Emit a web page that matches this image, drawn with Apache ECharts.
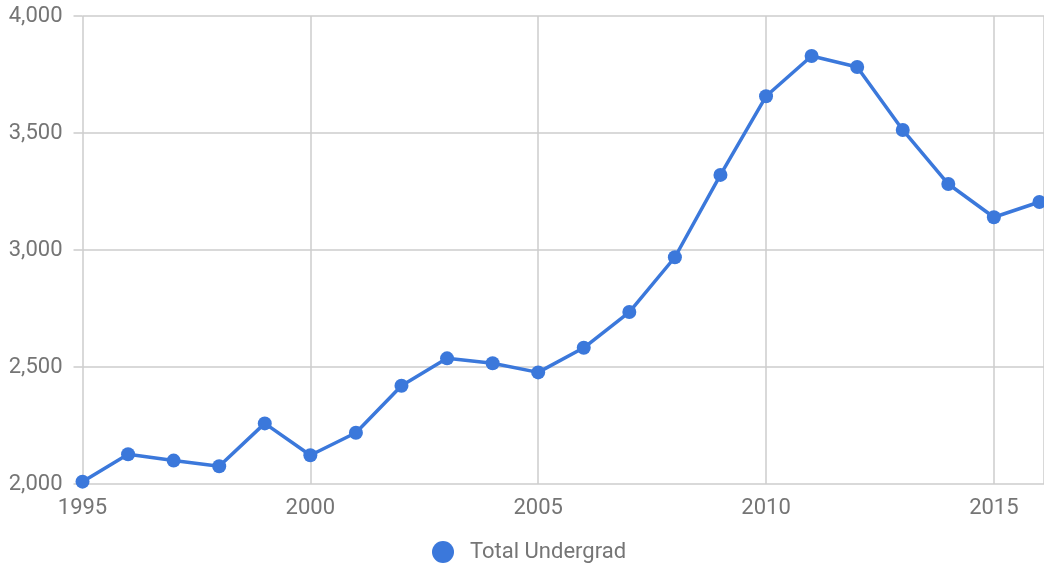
<!DOCTYPE html>
<html>
<head>
<meta charset="utf-8">
<title>Total Undergrad</title>
<script src="https://cdn.jsdelivr.net/npm/echarts@6/dist/echarts.min.js"></script>
<style>
  html, body { margin: 0; padding: 0; background: #fff; }
  #chart { width: 1044px; height: 567px; }
</style>
</head>
<body>
<div id="chart"></div>
<script>
// Enrollment by year
const years = [1995, 1996, 1997, 1998, 1999, 2000, 2001, 2002, 2003, 2004, 2005,
               2006, 2007, 2008, 2009, 2010, 2011, 2012, 2013, 2014, 2015, 2016];
const totalUndergrad = [2010, 2127, 2100, 2076, 2259, 2123, 2219, 2420, 2537, 2516, 2477,
                        2582, 2735, 2969, 3321, 3657, 3829, 3782, 3513, 3282, 3140, 3205];
const seriesName = 'Total Undergrad';

const textColor = '#757575';
const gridColor = '#cccccc';
const lineColor = '#3b78db';
const fontFamily = 'Roboto, "Noto Sans", Arial, sans-serif';

const points = years.map((y, i) => [y, totalUndergrad[i]]);

const chart = echarts.init(document.getElementById('chart'), null, { renderer: 'canvas' });
chart.setOption({
  animation: false,
  backgroundColor: '#ffffff',
  textStyle: { fontFamily: fontFamily },
  // plot runs a little past the right edge, so the last year sits at the border
  grid: { left: 82.5, width: 965, top: 16, height: 468, containLabel: false },
  legend: {
    data: [seriesName],
    top: 536,
    left: 427,
    icon: 'circle',
    itemWidth: 22,
    itemHeight: 22,
    textStyle: { color: textColor, fontSize: 22, fontFamily: fontFamily, padding: [0, 0, 0, 11] }
  },
  xAxis: {
    type: 'value',
    min: 1995,
    max: 2016.1,
    interval: 5,
    axisLine: { show: false },
    axisTick: { show: false },
    axisLabel: {
      color: textColor,
      fontSize: 22,
      margin: 13,
      showMaxLabel: false,
      formatter: v => String(v)
    },
    splitLine: { show: true, lineStyle: { color: gridColor, width: 1.5 } }
  },
  yAxis: {
    type: 'value',
    min: 2000,
    max: 4000,
    interval: 500,
    axisLine: { show: false },
    axisTick: { show: true, length: 9, lineStyle: { color: gridColor, width: 1.5 } },
    axisLabel: {
      color: textColor,
      fontSize: 22,
      margin: 20,
      formatter: v => v.toLocaleString('en-US')
    },
    splitLine: { show: true, lineStyle: { color: gridColor, width: 1.5 } }
  },
  series: [{
    name: seriesName,
    type: 'line',
    data: points,
    symbol: 'circle',
    symbolSize: 14,
    clip: false,
    itemStyle: { color: lineColor },
    lineStyle: { color: lineColor, width: 3.5 }
  }]
});
</script>
</body>
</html>
